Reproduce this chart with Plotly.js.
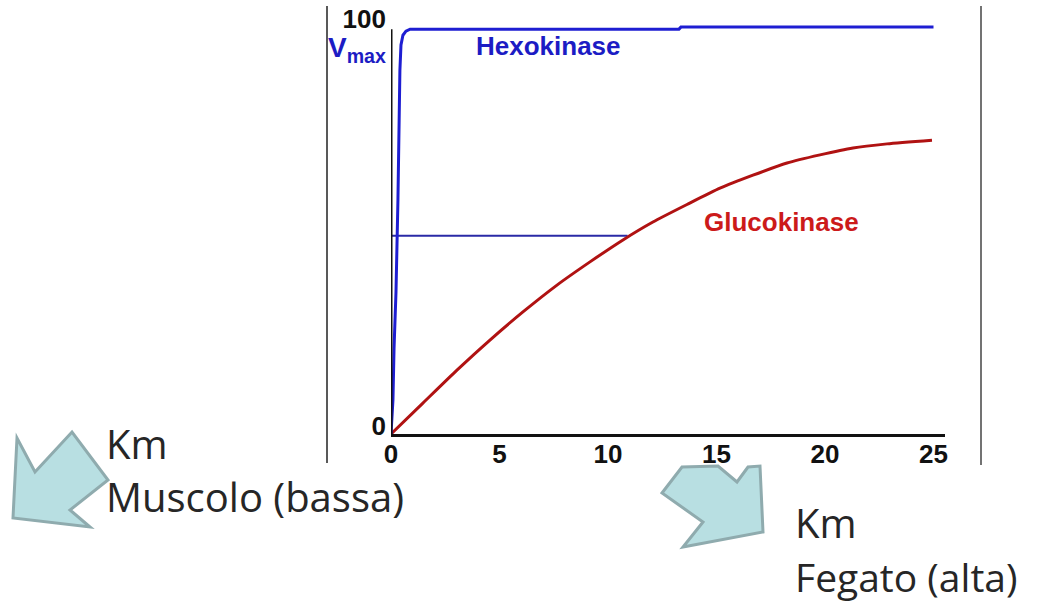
<!DOCTYPE html>
<html>
<head>
<meta charset="utf-8">
<script src="https://cdn.plot.ly/plotly-3.0.1.min.js"></script>
<style>html,body{margin:0;padding:0;background:#fff;}#chart{width:1051px;height:603px;}</style>
</head>
<body>
<div id="chart"></div>
<script>
// ---- data ----
var hexoX = [0, 0.09, 0.14, 0.23, 0.32, 0.37, 0.41, 0.46, 0.55, 0.69, 0.88, 13.27, 13.36, 25];
var hexoY = [0, 8.4, 21.1, 34.9, 57.5, 77.1, 89.4, 95.6, 98.0, 99.0, 99.5, 99.5, 100, 100];
var glucoX = [0, 1.47, 3.04, 4.56, 6.08, 7.65, 9.17, 10.69, 12.07, 13.64, 15.16, 16.68, 18.25, 19.77, 21.29, 22.86, 24.93];
var glucoY = [0, 7.6, 15.7, 23.1, 30.0, 36.6, 42.3, 47.7, 52.1, 56.4, 60.4, 63.6, 66.6, 68.6, 70.3, 71.3, 72.2];
var halfX = [0, 10.9];
var halfY = [48.7, 48.7];
var xTickVals = [0, 5, 10, 15, 20, 25];
var xTickText = ['0', '5', '10', '15', '20', '25'];
var yTickVals = [0, 100];
var yTickText = ['0', '100'];
var labelHexo = 'Hexokinase';
var labelGluco = 'Glucokinase';
var labelVmax = 'V<sub>max</sub>';
var labelKm = 'Km';
var labelMuscle = 'Muscolo (bassa)';
var labelLiver = 'Fegato (alta)';

// ---- layout helpers (pixel -> paper) ----
var W = 1051, H = 603;
var ML = 391, MR = 106, MT = 21, MB = 169;
var PW = W - ML - MR, PH = H - MT - MB;
function xp(px) { return (px - ML) / PW; }
function yp(py) { return (H - MB - py) / PH; }
function pathOf(pts) {
  return pts.map(function (p, i) { return (i ? 'L' : 'M') + xp(p[0]).toFixed(5) + ',' + yp(p[1]).toFixed(5); }).join(' ') + ' Z';
}

var arrowFill = '#b8dfe2';
var arrowLine = '#8fabae';
var leftArrow = [[13, 518], [17, 438], [35, 472], [72, 432], [108, 480], [70, 510], [90, 527]];
var rightArrow = [[662, 493], [682, 467], [718, 466], [737, 482], [748, 467], [760, 466], [763, 532], [683, 547], [703, 522]];
var tickFont = { family: 'Liberation Sans, Arial, sans-serif', size: 26, color: '#111', weight: 'bold' };
var noteFont = { family: 'Open Sans, sans-serif', size: 40, color: '#262626' };

var traces = [
  { x: halfX, y: halfY, mode: 'lines', line: { color: '#2a2aa6', width: 2 }, hoverinfo: 'skip' },
  { x: glucoX, y: glucoY, mode: 'lines', line: { color: '#b01212', width: 3, shape: 'spline', smoothing: 0.6 } },
  { x: hexoX, y: hexoY, mode: 'lines', line: { color: '#1e1ed2', width: 3 } }
];

var layout = {
  width: W, height: H,
  margin: { l: ML, r: MR, t: MT, b: MB, pad: 0 },
  paper_bgcolor: '#ffffff', plot_bgcolor: '#ffffff',
  showlegend: false,
  font: { family: 'Liberation Sans, Arial, sans-serif', color: '#000' },
  xaxis: {
    range: [0, 25.53], showgrid: false, zeroline: false,
    showline: true, linecolor: '#111', linewidth: 3,
    ticks: '', tickvals: xTickVals, ticktext: xTickText,
    ticklabelstandoff: -5,
    tickfont: tickFont
  },
  yaxis: {
    range: [0, 101.5], showgrid: false, zeroline: false, showline: false,
    ticks: '', tickvals: yTickVals, ticktext: yTickText, ticklabelshift: -8,
    ticklabelstandoff: 4,
    tickfont: tickFont
  },
  shapes: [
    { type: 'line', xref: 'x', yref: 'y', x0: 0, x1: 0, y0: 0, y1: 99.5, line: { color: '#111', width: 3 } },
    { type: 'line', xref: 'paper', yref: 'paper', x0: xp(327), x1: xp(327), y0: yp(6), y1: yp(463), line: { color: '#222', width: 1.5 } },
    { type: 'line', xref: 'paper', yref: 'paper', x0: xp(981), x1: xp(981), y0: yp(6), y1: yp(465), line: { color: '#444', width: 1.5 } },
    { type: 'path', xref: 'paper', yref: 'paper', path: pathOf(leftArrow), fillcolor: arrowFill, line: { color: arrowLine, width: 3 } },
    { type: 'path', xref: 'paper', yref: 'paper', path: pathOf(rightArrow), fillcolor: arrowFill, line: { color: arrowLine, width: 3 } }
  ],
  annotations: [
    { xref: 'paper', yref: 'paper', x: xp(548), y: yp(46), text: labelHexo, showarrow: false, xanchor: 'center', yanchor: 'middle',
      font: { family: 'Liberation Sans, Arial, sans-serif', size: 26, color: '#1c1cc4', weight: 'bold' } },
    { xref: 'paper', yref: 'paper', x: xp(781), y: yp(222), text: labelGluco, showarrow: false, xanchor: 'center', yanchor: 'middle',
      font: { family: 'Liberation Sans, Arial, sans-serif', size: 26, color: '#cc1a1a', weight: 'bold' } },
    { xref: 'paper', yref: 'paper', x: xp(388), y: yp(50), text: labelVmax, showarrow: false, xanchor: 'right', yanchor: 'middle',
      font: { family: 'Liberation Sans, Arial, sans-serif', size: 28, color: '#1c1cc4', weight: 'bold' } },
    { xref: 'paper', yref: 'paper', x: xp(104), y: yp(443), text: labelKm, showarrow: false, xanchor: 'left', yanchor: 'middle', font: noteFont },
    { xref: 'paper', yref: 'paper', x: xp(104), y: yp(496), text: labelMuscle, showarrow: false, xanchor: 'left', yanchor: 'middle', font: noteFont },
    { xref: 'paper', yref: 'paper', x: xp(793), y: yp(522), text: labelKm, showarrow: false, xanchor: 'left', yanchor: 'middle', font: noteFont },
    { xref: 'paper', yref: 'paper', x: xp(793), y: yp(576), text: labelLiver, showarrow: false, xanchor: 'left', yanchor: 'middle',
      font: { family: 'Open Sans, sans-serif', size: 39, color: '#262626' } }
  ]
};

Plotly.newPlot('chart', traces, layout, { displayModeBar: false, staticPlot: true });
</script>
</body>
</html>
